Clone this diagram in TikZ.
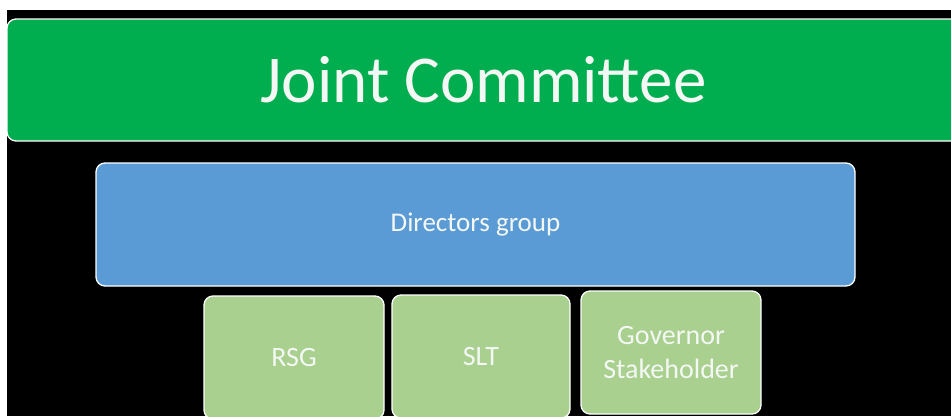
\documentclass[tikz,border=0pt]{standalone}
\usepackage{fontspec}
\setmainfont{Carlito}
\definecolor{jcgreen}{HTML}{00AE4F}
\definecolor{dgblue}{HTML}{5B9BD5}
\definecolor{lgreen}{HTML}{A9D08E}
\definecolor{softwhite}{HTML}{F4F8F4}
\tikzset{
  box/.style={draw=white, line width=1.3pt, rounded corners=9pt, inner sep=0pt,
    text=softwhite, align=center, anchor=center},
}
\begin{document}
\begin{tikzpicture}[x=1pt,y=1pt]
\useasboundingbox (0,0) rectangle (951,-416);
\clip (0,0) rectangle (951,-416);
\fill[white] (0,0) rectangle (951,-416);
\fill[black] (7,-10) rectangle (951,-416);
\node[box, fill=jcgreen, minimum width=953pt, minimum height=122pt,
  font=\fontsize{67}{80}\selectfont] (jc) at (483.5,-80) {Joint Committee};
\node[box, fill=dgblue, minimum width=759pt, minimum height=123pt,
  font=\fontsize{27}{32}\selectfont] (dg) at (475.5,-224.5) {Directors group};
\node[box, fill=lgreen, minimum width=180pt, minimum height=123pt,
  font=\fontsize{28}{34}\selectfont] (rsg) at (294,-357.5) {RSG};
\node[box, fill=lgreen, minimum width=178pt, minimum height=123pt,
  font=\fontsize{28}{34}\selectfont] (slt) at (481,-356.5) {SLT};
\node[box, fill=lgreen, minimum width=180pt, minimum height=123pt,
  font=\fontsize{28}{34}\selectfont] (gov) at (671,-352.5) {Governor\\Stakeholder};
\end{tikzpicture}
\end{document}
